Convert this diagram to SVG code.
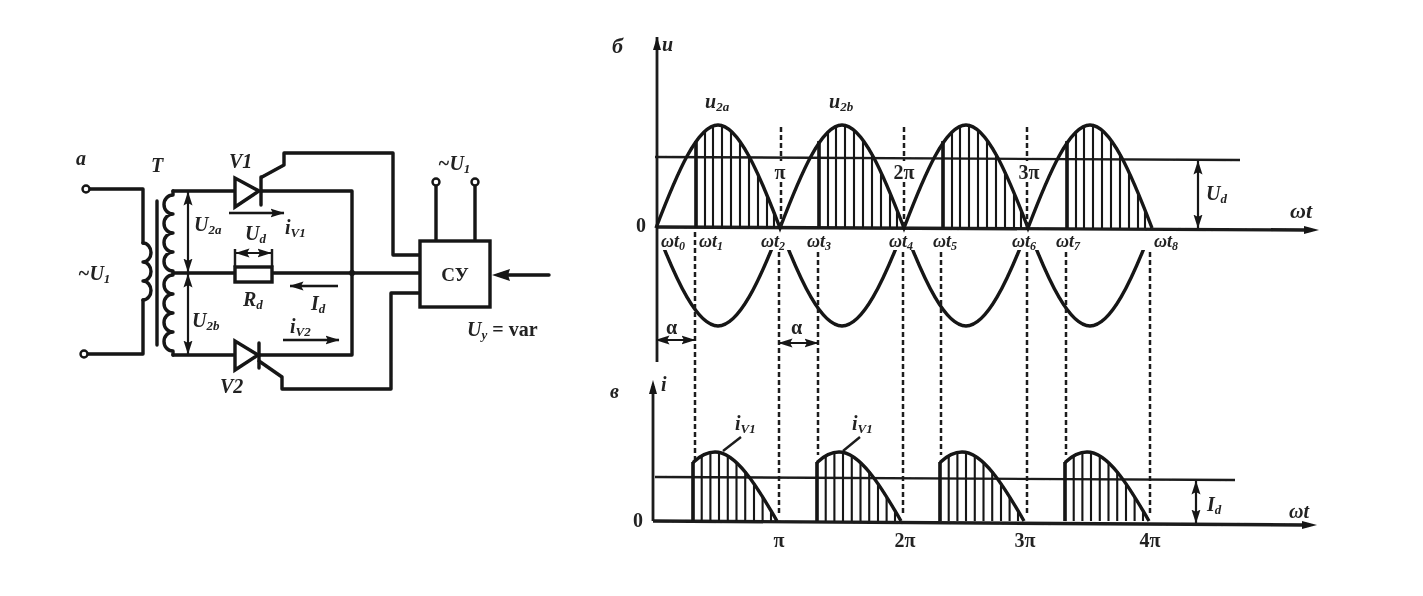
<svg xmlns="http://www.w3.org/2000/svg" width="1423" height="596" viewBox="0 0 1423 596">
<style>
.w{fill:none;stroke:#141414;stroke-width:3.4;stroke-linejoin:round;stroke-linecap:round}
.m{fill:none;stroke:#1c1c1c;stroke-width:2.4;stroke-linecap:butt}
.t{fill:none;stroke:#161616;stroke-width:2.1}
.tk{fill:none;stroke:#141414;stroke-width:3.6}
.d{fill:none;stroke:#1c1c1c;stroke-width:2.5;stroke-dasharray:5 3}
.c{fill:none;stroke:#141414;stroke-width:3.4}
.a{fill:none;stroke:#141414;stroke-width:2.4;marker-end:url(#ah)}
.aa{fill:none;stroke:#141414;stroke-width:2.2;marker-start:url(#ah);marker-end:url(#ah)}
text{font-family:"Liberation Serif","DejaVu Serif",serif;font-weight:bold;font-style:italic;fill:#222;font-size:20px}
.r{font-style:normal}
.s{font-size:13px}
.sm{font-size:18px}
.ss{font-size:12px}
</style>
<defs>
<filter id="soft" x="0" y="0" width="100%" height="100%" filterUnits="objectBoundingBox"><feGaussianBlur stdDeviation="0.65"/></filter>
<marker id="ah" viewBox="0 0 14 10" refX="13.5" refY="5" markerUnits="userSpaceOnUse" markerWidth="14" markerHeight="10" orient="auto-start-reverse"><path d="M0 0.5L14 5L0 9.5L2.5 5z" fill="#141414"/></marker>
<clipPath id="below"><rect x="640" y="250" width="540" height="100"/></clipPath>
<g id="humpTop">
<path class="tk" d="M40 228V141"/>
<path class="t" d="M49 228V131M57 228V126M66 228V126M75 228V131M84 228V141M93 228V155M102 228V173M111 228V195M118 228V212"/>
</g>
<g id="humpLow">
<path class="tk" d="M40 521V462"/>
<path class="t" d="M48.7 521V456M57.4 521V452.5M66 521V452.5M74.8 521V456M83.5 521V462M92.2 521V471M101 521V483M109.6 521V496M118 521V511"/>
<path class="c" d="M40 462.4C47.3 455.6 54.7 452 62 452C82.7 452 103.3 484.9 124 521"/>
</g>
</defs>
<rect width="1423" height="596" fill="#fff"/>
<g id="drawing" filter="url(#soft)">

<g id="connectors">
<path class="w" d="M90 189H143V243M143 300V354H88"/>
<path class="w" d="M173 191H235M173 355H235"/>
<path class="w" d="M262 191H352V355H260"/>
<path class="w" d="M173 273H235M272 273H419"/>
<path class="w" d="M262 177L284 165V153H393V255H419"/>
<path class="w" d="M419 293H391V389H282V377L259 361"/>
<path class="w" d="M436 186V241M475 186V241"/>
<path class="w" d="M549 275H508"/>
<path d="M492 275L510 269L508 275L510 281z" fill="#141414"/>
<circle cx="352" cy="273" r="3" fill="#141414"/>
<path class="aa" d="M188 192V272"/>
<path class="aa" d="M188 274V354"/>
<path class="a" d="M229 213H284"/>
<path class="a" d="M338 286H290"/>
<path class="a" d="M283 340H339"/>
<path class="aa" d="M236 253H271"/>
<path class="m" d="M235 249V267M272 249V267"/>
</g>

<g id="terminal-a1"><circle cx="86" cy="189" r="3.5" fill="#fff" stroke="#141414" stroke-width="2.4"/></g>
<g id="terminal-a2"><circle cx="84" cy="354" r="3.5" fill="#fff" stroke="#141414" stroke-width="2.4"/></g>
<g id="transformer">
<path class="w" d="M143 243a8 9.5 0 0 1 0 19a8 9.5 0 0 1 0 19a8 9.5 0 0 1 0 19"/>
<path class="w" d="M157 201V345"/>
<path class="w" d="M173 191V195a9 9.5 0 0 0 0 19a9 9.5 0 0 0 0 19a9 9.5 0 0 0 0 19a9 9.5 0 0 0 0 19V275a9 9.5 0 0 0 0 19a9 9.5 0 0 0 0 19a9 9.5 0 0 0 0 19a9 9.5 0 0 0 0 19V355"/>
<text x="151" y="172">T</text>
</g>
<g id="V1">
<path d="M235 178V207L259 191z" fill="#fff" stroke="#141414" stroke-width="3.4"/>
<path class="w" d="M261 177V205"/>
<text x="229" y="168">V1</text>
</g>
<g id="V2">
<path d="M235 341V370L258 355z" fill="#fff" stroke="#141414" stroke-width="3.4"/>
<path class="w" d="M259 343V368"/>
<text x="220" y="393">V2</text>
</g>
<g id="Rd">
<rect x="235" y="267" width="37" height="15" fill="#fff" stroke="#141414" stroke-width="3.4"/>
<text x="243" y="306">R<tspan class="s" dy="3">d</tspan></text>
</g>
<g id="CU">
<rect x="420" y="241" width="70" height="66" fill="#fff" stroke="#141414" stroke-width="3.4"/>
<text x="455" y="281" text-anchor="middle" class="r" style="font-size:19px">СУ</text>
</g>
<g id="terminal-b1"><circle cx="436" cy="182" r="3.5" fill="#fff" stroke="#141414" stroke-width="2.4"/></g>
<g id="terminal-b2"><circle cx="475" cy="182" r="3.5" fill="#fff" stroke="#141414" stroke-width="2.4"/></g>

<g id="circuit-labels">
<text x="76" y="165">a</text>
<text x="78" y="280">~U<tspan class="s" dy="3">1</tspan></text>
<text x="194" y="231">U<tspan class="s" dy="3">2a</tspan></text>
<text x="192" y="327">U<tspan class="s" dy="3">2b</tspan></text>
<text x="245" y="240">U<tspan class="s" dy="3">d</tspan></text>
<text x="285" y="234">i<tspan class="s" dy="3">V1</tspan></text>
<text x="290" y="333">i<tspan class="s" dy="3">V2</tspan></text>
<text x="311" y="310">I<tspan class="s" dy="3">d</tspan></text>
<text x="438" y="170">~U<tspan class="s" dy="3">1</tspan></text>
<text x="467" y="336">U<tspan class="s" dy="3">y</tspan><tspan class="r" dy="-3"> = var</tspan></text>
</g>

<g id="plot-u">
<path class="m" d="M657 37V362" style="stroke-width:2.8"/>
<path d="M657 37L653 50H661z" fill="#141414"/>
<path class="m" d="M656 227L1306 230" style="stroke-width:3.4"/>
<path d="M1319 230L1304 226V234z" fill="#141414"/>
<path class="m" d="M655 157L1240 160"/>
<use href="#humpTop" x="656"/><use href="#humpTop" x="779"/><use href="#humpTop" x="903"/><use href="#humpTop" x="1027"/>
<path class="c" d="M656 228c20.67 -53.9 41.33 -103 62 -103s41.33 49.1 62 103c20.67 -53.9 41.33 -103 62 -103s41.33 49.1 62 103c20.67 -53.9 41.33 -103 62 -103s41.33 49.1 62 103c20.67 -53.9 41.33 -103 62 -103s41.33 49.1 62 103"/>
<path class="c" clip-path="url(#below)" d="M656 228c20.67 53.9 41.33 98 62 98s41.33 -44.1 62 -98c20.67 53.9 41.33 98 62 98s41.33 -44.1 62 -98c20.67 53.9 41.33 98 62 98s41.33 -44.1 62 -98c20.67 53.9 41.33 98 62 98s41.33 -44.1 62 -98"/>
<path class="d" d="M781 127V161M781 182V228M904 127V161M904 182V228M1027 127V161M1027 182V228"/>
<path class="d" d="M695 232V462M779 252V515M818 252V455M903 252V515M941 252V455M1027 252V515M1066 252V455M1150 252V515"/>
<path class="aa" d="M656 340H695"/>
<path class="aa" d="M779 343H818"/>
<path class="aa" d="M1198 161V228"/>
<text x="612" y="53" style="font-size:22px">б</text>
<text x="662" y="51">u</text>
<text x="705" y="108">u<tspan class="s" dy="3">2a</tspan></text>
<text x="829" y="108">u<tspan class="s" dy="3">2b</tspan></text>
<text x="636" y="232" class="r">0</text>
<text x="780" y="179" text-anchor="middle" class="r">π</text>
<text x="904" y="179" text-anchor="middle" class="r">2π</text>
<text x="1029" y="179" text-anchor="middle" class="r">3π</text>
<text x="1206" y="200">U<tspan class="s" dy="3">d</tspan></text>
<text x="1290" y="218" style="font-size:22px">ωt</text>
<text x="661" y="247" class="sm">ωt<tspan class="ss" dy="3">0</tspan></text>
<text x="699" y="247" class="sm">ωt<tspan class="ss" dy="3">1</tspan></text>
<text x="761" y="247" class="sm">ωt<tspan class="ss" dy="3">2</tspan></text>
<text x="807" y="247" class="sm">ωt<tspan class="ss" dy="3">3</tspan></text>
<text x="889" y="247" class="sm">ωt<tspan class="ss" dy="3">4</tspan></text>
<text x="933" y="247" class="sm">ωt<tspan class="ss" dy="3">5</tspan></text>
<text x="1012" y="247" class="sm">ωt<tspan class="ss" dy="3">6</tspan></text>
<text x="1056" y="247" class="sm">ωt<tspan class="ss" dy="3">7</tspan></text>
<text x="1154" y="247" class="sm">ωt<tspan class="ss" dy="3">8</tspan></text>
<text x="666" y="334" class="r">α</text>
<text x="791" y="334" class="r">α</text>
</g>

<g id="plot-i">
<path class="m" d="M653 386V521" style="stroke-width:2.8"/>
<path d="M653 380L649 394H657z" fill="#141414"/>
<path class="m" d="M653 521L1304 525" style="stroke-width:3.4"/>
<path d="M1317 525L1302 521V529z" fill="#141414"/>
<path class="m" d="M655 477L1235 480"/>
<use href="#humpLow" x="653"/><use href="#humpLow" x="777"/><use href="#humpLow" x="900"/><use href="#humpLow" x="1025"/>
<path class="m" d="M723 451L741 437M843 451L860 437"/>
<path class="aa" d="M1196 481V523"/>
<text x="610" y="398">в</text>
<text x="661" y="391">i</text>
<text x="633" y="527" class="r">0</text>
<text x="735" y="430">i<tspan class="s" dy="3">V1</tspan></text>
<text x="852" y="430">i<tspan class="s" dy="3">V1</tspan></text>
<text x="779" y="547" text-anchor="middle" class="r">π</text>
<text x="905" y="547" text-anchor="middle" class="r">2π</text>
<text x="1025" y="547" text-anchor="middle" class="r">3π</text>
<text x="1150" y="547" text-anchor="middle" class="r">4π</text>
<text x="1207" y="511">I<tspan class="s" dy="3">d</tspan></text>
<text x="1289" y="518" style="font-size:20px">ωt</text>
</g>
</g>
</svg>
